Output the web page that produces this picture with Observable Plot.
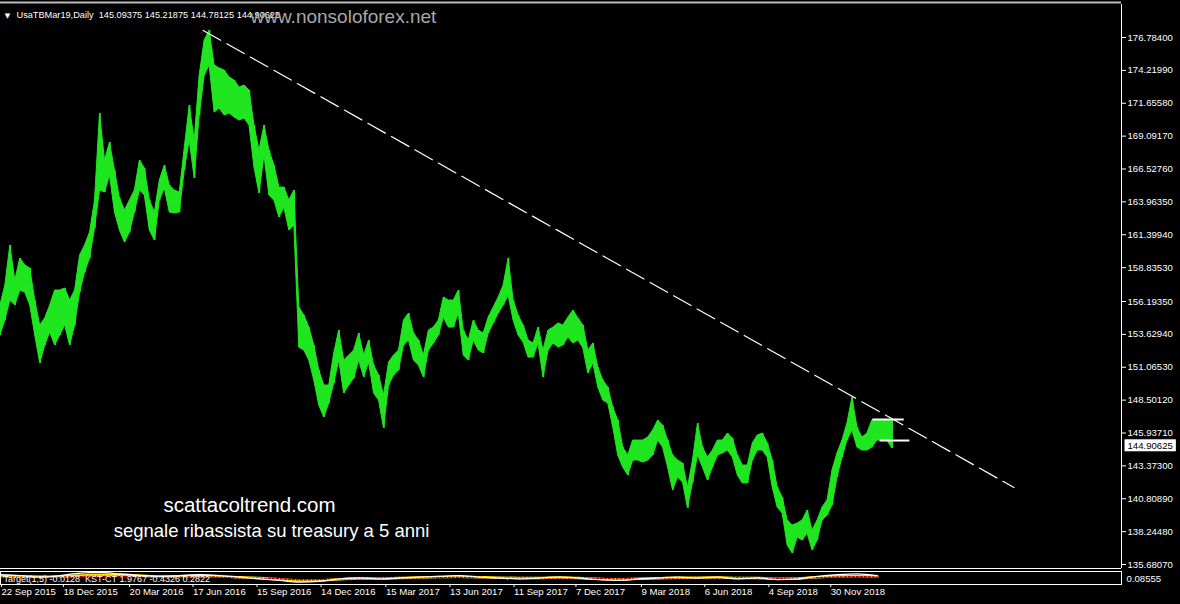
<!DOCTYPE html>
<html><head><meta charset="utf-8">
<script src="https://cdn.jsdelivr.net/npm/d3@7"></script>
<script src="https://cdn.jsdelivr.net/npm/@observablehq/plot@0.6"></script>
<style>
html,body{margin:0;padding:0;background:#000;}
#wrap{position:relative;width:1180px;height:604px;overflow:hidden;background:#000;}
#main{position:absolute;left:0;top:0;}
#ind{position:absolute;left:0;top:569px;}
</style></head><body><div id="wrap"><div id="main"></div><div id="ind"></div></div>
<script>
// ---------- data ----------
const symbolTitle = "UsaTBMar19,Daily";
const lastOHLC = ["145.09375", "145.21875", "144.78125", "144.90625"];
const watermark = "www.nonsoloforex.net";
const caption1 = "scattacoltrend.com";
const caption2 = "segnale ribassista su treasury a 5 anni";
const firstWeek = "2015-09-19";
const weeklyHigh = [155.88,157.44,160.56,157.83,159.55,159.00,158.77,156.27,154.32,154.87,155.88,157.05,157.05,157.21,156.27,157.05,159.78,160.56,161.57,164.07,
170.86,167.19,168.59,166.41,164.23,163.29,164.07,164.85,167.19,166.57,164.07,163.13,165.63,166.80,165.24,164.85,164.69,168.13,171.48,168.75,
173.82,176.55,177.33,174.60,174.37,174.21,173.66,173.43,172.88,173.04,172.65,169.92,167.97,169.92,167.97,166.80,165.08,165.08,164.07,164.85,
155.72,155.10,154.16,152.76,150.81,149.64,149.64,152.14,153.93,151.59,151.98,152.37,153.70,151.98,153.15,151.20,150.42,148.86,151.43,151.98,
152.37,154.71,155.26,153.70,153.15,151.98,153.93,154.16,154.71,156.50,156.27,156.27,157.05,153.93,153.15,154.71,153.93,153.70,154.94,155.72,
156.50,157.44,159.55,156.27,155.10,154.32,153.15,152.92,154.16,152.37,153.93,154.16,154.48,154.32,154.94,155.49,154.87,154.32,152.37,152.92,
151.04,150.03,149.48,147.92,146.91,144.80,144.18,145.35,145.35,145.35,145.58,146.13,146.91,146.52,145.35,144.18,143.79,143.56,141.68,143.79,
146.68,144.80,144.02,144.57,145.35,145.35,145.90,145.51,144.18,143.40,143.40,145.12,145.74,145.90,145.12,143.79,141.68,140.90,139.11,138.72,
138.88,139.11,139.89,138.33,139.11,140.12,140.67,143.01,144.34,145.35,146.68,148.70,146.36,145.58,145.90,146.91,146.91,146.91,146.91,146.91];
const weeklyLow = [153.54,154.71,156.27,155.88,157.05,156.89,155.88,153.54,151.36,152.76,153.77,152.76,153.54,154.32,152.76,154.32,156.89,158.45,159.55,161.89,
164.85,164.69,166.02,163.13,161.73,160.79,161.57,163.13,164.85,164.46,161.73,160.95,164.07,165.01,163.13,163.06,163.13,166.41,168.75,165.79,
170.70,173.82,174.60,170.93,171.25,170.70,170.86,170.54,170.31,170.47,169.92,166.64,164.62,167.58,164.46,164.07,162.74,163.52,161.73,162.12,
152.60,152.37,151.59,150.03,148.08,147.14,148.24,149.80,151.59,149.02,149.64,150.19,151.59,150.26,151.43,149.02,148.47,146.29,149.64,150.42,
150.81,152.76,153.15,151.59,151.20,150.26,152.37,152.92,153.54,154.94,154.16,154.16,155.26,151.98,151.59,153.15,152.37,152.14,153.70,154.48,
155.26,155.88,156.66,154.71,153.54,152.99,151.82,151.82,152.92,150.26,152.37,152.92,152.60,152.76,153.38,152.92,153.15,152.53,150.58,151.36,
149.48,148.47,148.24,146.36,144.18,143.24,142.62,143.79,143.79,143.63,143.79,144.18,145.35,144.80,143.24,141.45,142.46,142.07,140.05,142.07,
144.18,143.24,142.23,143.24,144.18,144.34,144.57,144.02,142.62,142.00,142.00,143.79,144.57,144.57,144.02,141.68,140.12,139.66,137.16,136.54,
137.78,137.55,138.10,136.77,137.55,139.11,139.50,140.28,142.46,144.02,145.35,146.13,144.80,144.57,144.57,144.80,145.35,145.35,145.35,144.73];
const lastPrice = 144.90625;
const priceTicks = [176.784,174.2199,171.6558,169.0917,166.5276,163.9635,161.3994,158.8353,156.1935,153.6294,151.0653,148.5012,145.9371,143.373,140.8089,138.2448,135.6807];
const dateTicks = ["2015-09-22","2015-12-18","2016-03-20","2016-06-17","2016-09-15","2016-12-14","2017-03-15","2017-06-13","2017-09-11","2017-12-07","2018-03-09","2018-06-06","2018-09-04","2018-11-30"];
const trendDates = ["2016-06-30", "2019-08-13"];
const trendPrices = [177.33, 141.68];
const rangeStart = ["2019-01-26", "2019-02-05"];
const rangeEnd = ["2019-03-11", "2019-03-19"];
const rangePrices = [146.99, 145.35];
const kstWhite = [2.0,1.5,0.5,1.5,3.0,3.5,2.5,1.5,1.0,1.5,2.0,1.5,0.5,-0.5,-1.5,-2.5,-2.0,-0.5,0,-0.5,0,0.5,1.0,1.5,0.5,0,-0.5,0,0.5,0,-1.0,-1.5,-0.5,0,0.5,0,0.5,-0.5,0,-1.0,-0.5,1.0,2.0,2.5,1.5];
const kstYellow = [1.0,1.0,0.8,1.0,1.5,2.0,2.0,1.5,1.0,1.0,1.2,1.0,0.5,0,-0.8,-1.5,-1.5,-0.8,-0.3,-0.3,0,0.3,0.6,0.8,0.5,0.2,0,0,0.3,0,-0.5,-0.8,-0.5,-0.2,0.2,0.2,0.3,0,0,-0.5,-0.3,0.5,1.0,1.3,1.0];
const kstRed = [0.5,0.5,0.3,0.5,0.8,1.0,1.0,0.8,0.5,0.5,0.6,0.5,0.2,-0.2,-0.5,-1.0,-1.0,-0.6,-0.3,-0.2,0,0.2,0.3,0.5,0.3,0,-0.2,0,0.1,0,-0.3,-0.6,-0.3,-0.1,0.1,0.1,0.2,0,-0.1,-0.3,-0.2,0.3,0.6,0.8,0.6];
const indicatorLabel = "Target(1,5) -0.0128  KST-CT 1.9767 -0.4326 0.2822";
const indicatorScale = "0.08555";

// ---------- build tables ----------
const parse = d3.utcParse("%Y-%m-%d");
const start = parse(firstWeek);
const bars = weeklyHigh.map((h, i) => ({date: d3.utcDay.offset(start, 7 * i), high: h, low: weeklyLow[i]}));
const trend = trendDates.map((d, i) => ({date: parse(d), price: trendPrices[i]}));
const ranges = rangePrices.map((p, i) => ({x1: parse(rangeStart[i]), x2: parse(rangeEnd[i]), p}));
const kst = kstWhite.map((w, i) => ({date: d3.utcDay.offset(start, 28 * i), w, yel: kstYellow[i], red: kstRed[i]}));
const ticksX = dateTicks.map(parse);

const xDomain = [new Date(Date.UTC(2015, 8, 19, 5)), new Date(Date.UTC(2020, 0, 11))];
const yDomain = [135.368, 179.358];
const font = "'Liberation Sans', Arial, sans-serif";
const green = "#1fe61f";

const main = Plot.plot({
  width: 1180, height: 570,
  marginTop: 4, marginBottom: 2, marginLeft: 0, marginRight: 59,
  style: {background: "#000", color: "#fff", fontFamily: font, overflow: "visible"},
  x: {type: "utc", domain: xDomain, axis: null},
  y: {domain: yDomain, label: null},
  marks: [
    Plot.areaY(bars, {x: "date", y1: "low", y2: "high", fill: green, stroke: green, strokeWidth: 1}),
    Plot.ruleX(bars, {x: "date", y1: "low", y2: "high", stroke: green, strokeWidth: 1.5}),
    Plot.line(trend, {x: "date", y: "price", stroke: "#fff", strokeWidth: 1.2, strokeDasharray: "20,7"}),
    Plot.link(ranges, {x1: "x1", x2: "x2", y1: "p", y2: "p", stroke: "#fff", strokeWidth: 2}),
    Plot.ruleX([xDomain[1]], {stroke: "#fff", strokeWidth: 1}),
    Plot.ruleY([yDomain[0]], {stroke: "#fff", strokeWidth: 1}),
    Plot.ruleY([yDomain[1]], {stroke: "#bbb", strokeWidth: 2, dy: -2}),
    Plot.axisY(priceTicks, {anchor: "right", tickSize: 4, tickPadding: 2, tickFormat: d => d.toFixed(5), fontSize: 9.6, fill: "#fff", stroke: "#fff", label: null}),
    Plot.text([lastPrice], {y: d => d, frameAnchor: "right", dx: 6, textAnchor: "start", text: d => d.toFixed(5), fill: "#000", fontSize: 9.6, className: "curprice"}),
    Plot.text(["\u25BC"], {frameAnchor: "top-left", dx: 7, dy: 11, text: d => d, fill: "#fff", fontSize: 7, fontFamily: "DejaVu Sans", lineAnchor: "middle", textAnchor: "middle"}),
    Plot.text([symbolTitle + "  " + lastOHLC.join(" ")], {frameAnchor: "top-left", dx: 16, dy: 11, text: d => d, fill: "#fff", fontSize: 9.2, lineAnchor: "middle", textAnchor: "start"}),
    Plot.text([watermark], {frameAnchor: "top-left", dx: 250, dy: 12, text: d => d, fill: "#a8a8a8", fontSize: 19, lineAnchor: "middle", textAnchor: "start"}),
    Plot.text([caption1], {frameAnchor: "top-left", dx: 249, dy: 501, text: d => d, fill: "#fff", fontSize: 20.5, lineAnchor: "middle", textAnchor: "middle"}),
    Plot.text([caption2], {frameAnchor: "top-left", dx: 271, dy: 527, text: d => d, fill: "#fff", fontSize: 18.5, lineAnchor: "middle", textAnchor: "middle"})
  ]
});
document.getElementById("main").appendChild(main);

// white box behind the current price label
{
  const g = main.querySelector(".curprice");
  if (g) {
    const t = g.querySelector("text");
    const bb = t.getBBox();
    const r = document.createElementNS("http://www.w3.org/2000/svg", "rect");
    r.setAttribute("x", bb.x - 3); r.setAttribute("y", bb.y - 1);
    r.setAttribute("width", bb.width + 6); r.setAttribute("height", bb.height + 1);
    r.setAttribute("fill", "#fff");
    if (t.getAttribute("transform")) r.setAttribute("transform", t.getAttribute("transform"));
    t.parentNode.insertBefore(r, t);
  }
}

const ind = Plot.plot({
  width: 1180, height: 35,
  marginTop: 2, marginBottom: 20, marginLeft: 0, marginRight: 59,
  style: {background: "#000", color: "#fff", fontFamily: font, overflow: "visible"},
  x: {type: "utc", domain: xDomain, label: null},
  y: {domain: [-4, 4], axis: null},
  marks: [
    Plot.line(kst, {x: "date", y: "yel", stroke: "#ffe600", strokeWidth: 2.5, curve: "monotone-x"}),
    Plot.line(kst, {x: "date", y: "red", stroke: "#b00000", strokeWidth: 1.5, strokeDasharray: "2,2", curve: "monotone-x"}),
    Plot.line(kst, {x: "date", y: "w", stroke: "#fff", strokeWidth: 1.3, curve: "monotone-x"}),
    Plot.frame({stroke: "#fff"}),
    Plot.text([indicatorLabel], {frameAnchor: "left", dx: 3, dy: 1, text: d => d, fill: "#fff", fontSize: 9, textAnchor: "start"}),
    Plot.text([indicatorScale], {frameAnchor: "right", dx: 5, dy: 1, text: d => d, fill: "#fff", fontSize: 9.6, textAnchor: "start"}),
    Plot.axisX(ticksX, {anchor: "bottom", tickSize: 3, tickPadding: 1, tickFormat: d3.utcFormat("%-d %b %Y"), fontSize: 9.6, fill: "#fff", stroke: "#fff", textAnchor: "start", dx: -1, label: null})
  ]
});
document.getElementById("ind").appendChild(ind);
</script></body></html>
